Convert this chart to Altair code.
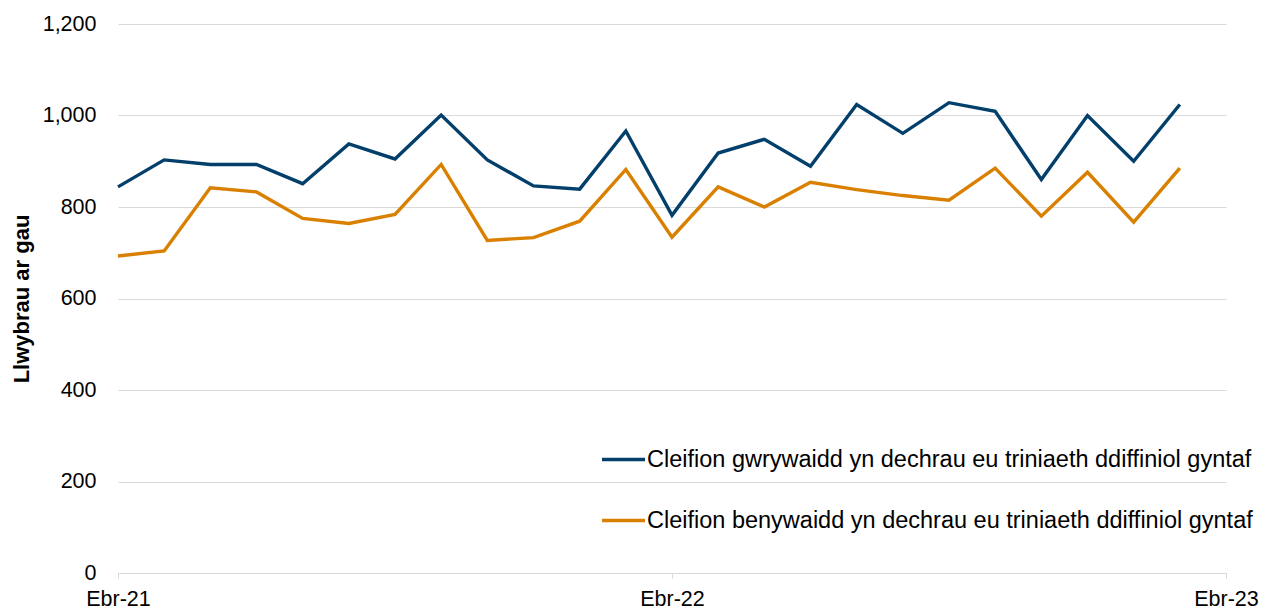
import altair as alt
import pandas as pd

months = ["Ebr-21", "Mai-21", "Meh-21", "Gor-21", "Aws-21", "Med-21", "Hyd-21", "Tach-21",
          "Rhag-21", "Ion-22", "Chwe-22", "Maw-22", "Ebr-22", "Mai-22", "Meh-22", "Gor-22",
          "Aws-22", "Med-22", "Hyd-22", "Tach-22", "Rhag-22", "Ion-23", "Chwe-23", "Maw-23"]
male = [844, 903, 893, 893, 851, 938, 905, 1001, 903, 846, 839, 966,
        782, 918, 948, 889, 1024, 961, 1028, 1009, 860, 1000, 900, 1024]
female = [693, 704, 842, 833, 775, 764, 784, 893, 727, 733, 769, 882,
          734, 844, 800, 854, 838, 825, 815, 885, 780, 876, 767, 885]
series = ["Cleifion gwrywaidd yn dechrau eu triniaeth ddiffiniol gyntaf",
          "Cleifion benywaidd yn dechrau eu triniaeth ddiffiniol gyntaf"]
colors = ["#033f6b", "#d98000"]
tick_values = [0, 12, 24]
tick_labels = ["Ebr-21", "Ebr-22", "Ebr-23"]

rows = []
for i, m in enumerate(months):
    rows.append({"idx": i, "month": m, "series": series[0], "value": male[i]})
    rows.append({"idx": i, "month": m, "series": series[1], "value": female[i]})
df = pd.DataFrame(rows)

label_expr = " : ".join(
    f"datum.value == {v} ? '{t}'" for v, t in zip(tick_values[:-1], tick_labels[:-1])
) + f" : '{tick_labels[-1]}'"

font = "Liberation Sans"

chart = alt.Chart(df).mark_line(strokeWidth=3.4, strokeJoin="miter").encode(
    x=alt.X("idx:Q", scale=alt.Scale(domain=[0, 24], nice=False, zero=False),
            axis=alt.Axis(values=tick_values, labelExpr=label_expr, title=None,
                          grid=False, domainColor="#d9d9d9", tickColor="#d9d9d9",
                          tickSize=5, labelFontSize=21.5, labelColor="#000000",
                          labelFont=font, labelPadding=10, labelFlush=False,
                          labelBound=False, labelOverlap=False)),
    y=alt.Y("value:Q", scale=alt.Scale(domain=[0, 1200], nice=False),
            axis=alt.Axis(values=[0, 200, 400, 600, 800, 1000, 1200], format=",d",
                          title="Llwybrau ar gau", titleFontSize=22, titleFont=font,
                          titleFontWeight="bold", titleColor="#000000", titlePadding=9,
                          labelFontSize=21.5, labelFont=font, labelColor="#000000",
                          labelPadding=22, domain=False, ticks=False,
                          gridColor="#d9d9d9", gridWidth=1)),
    color=alt.Color("series:N", sort=series,
                    scale=alt.Scale(domain=series, range=colors),
                    legend=alt.Legend(title=None, orient="none", legendX=482, legendY=412,
                                      symbolType="stroke", symbolSize=1849,
                                      symbolStrokeWidth=3.4, labelFontSize=23.5,
                                      labelFont=font, labelColor="#000000",
                                      labelLimit=900, rowPadding=26, labelOffset=0)),
    order="idx:Q",
).properties(
    width=1108, height=549,
    autosize=alt.AutoSizeParams(type="none"),
    padding={"left": 110, "top": 16, "right": 40, "bottom": 37},
).configure_view(stroke=None)

chart.save("out.html", embed_options={"renderer": "svg", "actions": False})
